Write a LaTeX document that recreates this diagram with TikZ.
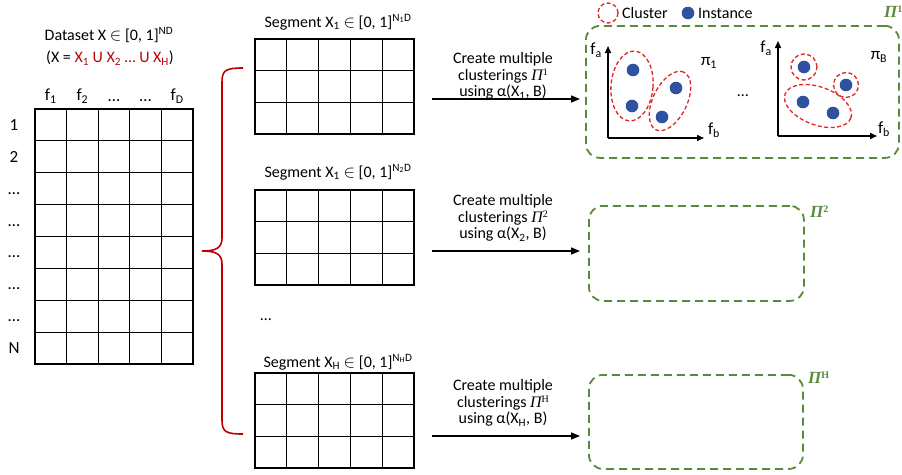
\documentclass[tikz,border=0pt]{standalone}
\usepackage{fontspec}
\setmainfont{Carlito}
\newfontfamily\pifont{Liberation Serif}
\usetikzlibrary{arrows.meta,shapes.geometric,calc}

\definecolor{braceRed}{HTML}{C00000}
\definecolor{boxGreen}{HTML}{5B8A3C}
\definecolor{dotBlue}{HTML}{2F52A0}
\definecolor{clRed}{HTML}{E02424}

% italic capital Pi with a small upright superscript
\newcommand\bigPi[1]{{\pifont\itshape Π}\raisebox{0.3em}{\pifont\fontsize{10}{10}\selectfont #1}}
% exponent N_h D of a segment
\newcommand\segpow[1]{\textsuperscript{N\textsubscript{#1}D}}
% subscript that does not widen the line box
\newcommand\lowsub[1]{\smash{\textsubscript{#1}}}

\tikzset{
  txt/.style={font=\fontsize{16}{16.5}\selectfont, inner sep=0pt},
  big/.style={font=\fontsize{17}{17}\selectfont},
  tbl/.style={draw, line width=1.2pt, inner sep=0pt, outer sep=0pt, anchor=north west},
  tline/.style={line width=1.2pt},
  grbox/.style={draw=boxGreen, line width=1.8pt, dash pattern=on 8pt off 5pt,
    rounded corners=14pt, inner sep=0pt, anchor=north west},
  pilabel/.style={text=boxGreen, font=\fontsize{17}{17}\selectfont\bfseries, inner sep=0pt, anchor=west},
  flow/.style={line width=1.5pt, -{Triangle[length=9pt,width=7pt]}},
  axis/.style={line width=1.5pt, -{Triangle[length=7pt,width=6pt]}},
  dot/.style={circle, fill=dotBlue, minimum size=12.6pt, inner sep=0pt},
  clus/.style={ellipse, draw=clRed, line width=1.3pt, dash pattern=on 4pt off 2.5pt, inner sep=0pt},
  bracepath/.style={draw=braceRed, line width=1.6pt},
}

% draws the inner grid lines of a table node: #1 name, #2 columns, #3 rows
\newcommand\tblgrid[3]{%
  \foreach \i in {1,...,\numexpr#2-1\relax}
    \draw[tline] ($(#1.north west)!\i/#2!(#1.north east)$) -- ($(#1.south west)!\i/#2!(#1.south east)$);
  \foreach \j in {1,...,\numexpr#3-1\relax}
    \draw[tline] ($(#1.north west)!\j/#3!(#1.south west)$) -- ($(#1.north east)!\j/#3!(#1.south east)$);
}

\begin{document}
\begin{tikzpicture}[x=1pt,y=-1pt]
\useasboundingbox (0,0) rectangle (902,474);

% ---------- full data set ----------
\node[txt] (dtitle) at (109,35) {Dataset X \ensuremath{\in} [0, 1]\textsuperscript{ND}};
\node[txt] (dunion) at (110,58) {(X = \textcolor{braceRed}{X\textsubscript{1} U X\textsubscript{2} … U X\textsubscript{H}})};

\node[tbl, minimum width=158pt, minimum height=255pt] (data) at (35,109) {};
\tblgrid{data}{5}{8}

\foreach \t [count=\k] in {f\textsubscript{1}, f\textsubscript{2}, …, …, f\textsubscript{D}}
  \node[txt, big] (col\k) at (35+31.6*\k-15.8, 96) {\vphantom{f}\t};
\foreach \t [count=\k] in {1, 2, \vphantom{1}…, \vphantom{1}…, \vphantom{1}…, \vphantom{1}…, \vphantom{1}…, N}
  \node[txt, big] (row\k) at (14, 109+31.875*\k-15.9) {\t};

% ---------- brace splitting the rows ----------
\coordinate (bt) at (243,68);
\coordinate (bm) at (202,251);
\coordinate (bb) at (243,434);
\path[bracepath] (bt) .. controls (226,68) and (222,70) .. (222,82)
  -- (222,238) .. controls (222,248) and (216,251) .. (bm)
  .. controls (216,251) and (222,254) .. (222,264)
  -- (222,420) .. controls (222,432) and (226,434) .. (bb);

% ---------- segments ----------
\node[txt] (s1lab) at (338,22) {Segment X\textsubscript{1} \ensuremath{\in} [0, 1]\segpow{1}};
\node[tbl, minimum width=159pt, minimum height=95pt] (seg1) at (255,39) {};
\tblgrid{seg1}{5}{3}

\node[txt] (s2lab) at (338,172) {Segment X\textsubscript{1} \ensuremath{\in} [0, 1]\segpow{2}};
\node[tbl, minimum width=159pt, minimum height=95pt] (seg2) at (255,190) {};
\tblgrid{seg2}{5}{3}

\node[txt] (sdots) at (266,320) {…};

\node[txt] (s3lab) at (338,362) {Segment X\textsubscript{H} \ensuremath{\in} [0, 1]\segpow{H}};
\node[tbl, minimum width=159pt, minimum height=95pt] (seg3) at (255,373) {};
\tblgrid{seg3}{5}{3}

% ---------- clustering sets ----------
\node[grbox, minimum width=313pt, minimum height=132pt] (pi1) at (585,25) {};
\node[pilabel] (pi1lab) at (884,12) {\bigPi{1}};
\node[grbox, minimum width=215pt, minimum height=95pt] (pi2) at (588,205) {};
\node[pilabel] (pi2lab) at (810,212) {\bigPi{2}};
\node[grbox, minimum width=214pt, minimum height=94pt] (piH) at (588,374) {};
\node[pilabel] (piHlab) at (808,378) {\bigPi{H}};

% ---------- arrows with their captions ----------
\coordinate (a1) at (432,99);
\coordinate (a2) at (432,251);
\coordinate (a3) at (432,436);
\draw[flow, shorten >=5pt] (a1) -- (a1 -| pi1.west);
\draw[flow, shorten >=8pt] (a2) -- (a2 -| pi2.west);
\draw[flow, shorten >=8pt] (a3) -- (a3 -| piH.west);
\node[txt, align=center] (c1) at (503,76) {Create multiple\\clusterings \bigPi{1}\\using α(X\lowsub{1}, B)};
\node[txt, align=center] (c2) at (503,218) {Create multiple\\clusterings \bigPi{2}\\using α(X\lowsub{2}, B)};
\node[txt, align=center] (c3) at (503,403) {Create multiple\\clusterings \bigPi{H}\\using α(X\lowsub{H}, B)};

% ---------- legend ----------
\node[clus, minimum width=20pt, minimum height=20pt] (lgc) at (608,13) {};
\node[txt, anchor=west] (lgct) at (622,13) {Cluster};
\node[dot] (lgd) at (688,13) {};
\node[txt, anchor=west] (lgdt) at (698,13) {Instance};

% ---------- clustering pi_1 ----------
\coordinate (o1) at (608,138);
\coordinate (y1) at (608,46);
\coordinate (x1) at (704,138);
\draw[axis] (o1) -- (y1);
\draw[axis] (o1) -- (x1);
\node[txt, big] (fa1) at (596,50) {f\textsubscript{a}};
\node[txt, big] (fb1) at (714,130) {f\textsubscript{b}};
\node[txt, big] (p1) at (709,63) {π\textsubscript{1}};
\node[dot] (d11) at (633,70) {};
\node[dot] (d12) at (632,106) {};
\node[dot] (d13) at (676,88) {};
\node[dot] (d14) at (662,117) {};
\node[clus, minimum width=42pt, minimum height=70pt, rotate=-5] (e11) at (632,86) {};
\node[clus, minimum width=64pt, minimum height=34pt, rotate=64] (e12) at (670,101) {};

\node[txt] (pdots) at (743,96) {…};

% ---------- clustering pi_B ----------
\coordinate (o2) at (778,136);
\coordinate (y2) at (778,41);
\coordinate (x2) at (877,136);
\draw[axis] (o2) -- (y2);
\draw[axis] (o2) -- (x2);
\node[txt, big] (fa2) at (766,48) {f\textsubscript{a}};
\node[txt, big] (fb2) at (884,129) {f\textsubscript{b}};
\node[txt, big] (pB) at (879,57) {π\textsubscript{B}};
\node[dot] (d21) at (804,67) {};
\node[dot] (d22) at (846,85) {};
\node[dot] (d23) at (803,102) {};
\node[dot] (d24) at (833,113) {};
\node[clus, minimum width=26pt, minimum height=26pt] (e21) at (804,67) {};
\node[clus, minimum width=25pt, minimum height=25pt] (e22) at (846,85) {};
\node[clus, minimum width=70pt, minimum height=38pt, rotate=-20] (e23) at (818,106) {};
\end{tikzpicture}
\end{document}
